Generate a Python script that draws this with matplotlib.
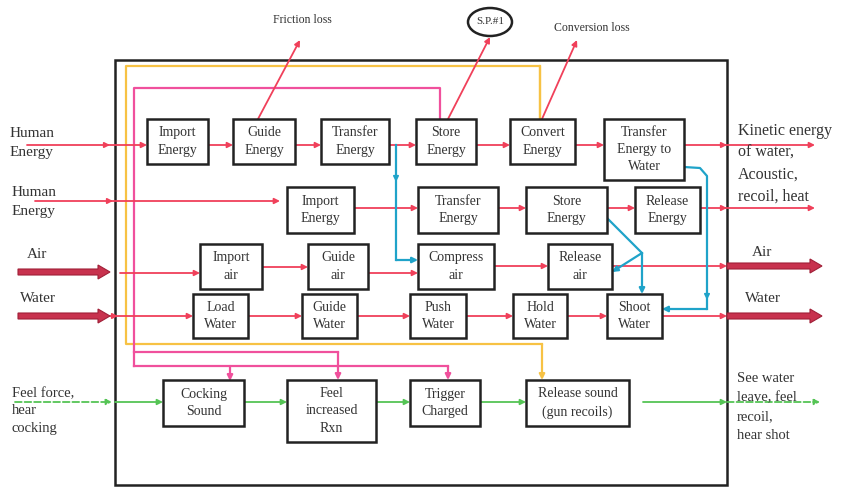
import matplotlib.pyplot as plt
from matplotlib.patches import Rectangle, Ellipse, FancyArrow

plt.rcParams['font.family'] = ['Liberation Serif', 'DejaVu Serif']

# Textos de las cajas por fila
fila1 = ["Import\nEnergy", "Guide\nEnergy", "Transfer\nEnergy", "Store\nEnergy",
         "Convert\nEnergy", "Transfer\nEnergy to\nWater"]
fila2 = ["Import\nEnergy", "Transfer\nEnergy", "Store\nEnergy", "Release\nEnergy"]
fila3 = ["Import\nair", "Guide\nair", "Compress\nair", "Release\nair"]
fila4 = ["Load\nWater", "Guide\nWater", "Push\nWater", "Hold\nWater", "Shoot\nWater"]
fila5 = ["Cocking\nSound", "Feel\nincreased\nRxn", "Trigger\nCharged",
         "Release sound\n(gun recoils)"]

entradas = ["Human\nEnergy", "Human\nEnergy", "Air", "Water", "Feel force,\nhear\ncocking"]
salidas = ["Kinetic energy\nof water,\nAcoustic,\nrecoil, heat", "Air", "Water",
           "See water\nleave, feel\nrecoil,\nhear shot"]
perdidas = ["Friction loss", "S.P.#1", "Conversion loss"]

# Posiciones (x0, x1) de cajas y (y0, y1) de cada fila, en pixeles
pos1 = [(147, 208), (233, 295), (321, 389), (416, 476), (510, 575), (604, 684)]
pos2 = [(287, 354), (418, 498), (526, 607), (635, 700)]
pos3 = [(200, 262), (308, 368), (418, 494), (548, 612)]
pos4 = [(193, 248), (302, 357), (410, 466), (513, 567), (607, 662)]
pos5 = [(163, 244), (287, 376), (410, 480), (526, 629)]
alto1, alto2, alto3, alto4, alto5 = (119, 164), (187, 233), (244, 289), (294, 338), (380, 426)

ROJO = '#f0405a'
ROSA = '#f0509c'
AMAR = '#f7c244'
CIAN = '#1fa3c9'
VERDE = '#55c455'
GRUESO = '#c8324e'
TEXTO = '#333333'

fig = plt.figure(figsize=(8.44, 4.87), dpi=100)
ax = fig.add_axes([0, 0, 1, 1])
ax.set_xlim(0, 844)
ax.set_ylim(487, 0)
ax.axis('off')


def caja(texto, x0, x1, y0, y1, fs=10):
    ax.add_patch(Rectangle((x0, y0), x1 - x0, y1 - y0, fill=True, fc='white',
                           ec='#222222', lw=1.8, zorder=3))
    ax.text((x0 + x1) / 2, (y0 + y1) / 2, texto, ha='center', va='center',
            fontsize=fs, color=TEXTO, linespacing=1.45, zorder=4)


def linea(pts, color, lw=1.3, ls='-', cabeza=True):
    xs = [p[0] for p in pts]
    ys = [p[1] for p in pts]
    if cabeza:
        ax.plot(xs[:-1], ys[:-1], color=color, lw=lw, ls=ls, zorder=2)
        ax.annotate('', xy=pts[-1], xytext=pts[-2],
                    arrowprops=dict(arrowstyle='-|>', color=color, lw=lw, ls=ls,
                                    shrinkA=0, shrinkB=0, mutation_scale=8),
                    zorder=2)
    else:
        ax.plot(xs, ys, color=color, lw=lw, ls=ls, zorder=2)


def punta(x, y, dx, dy, color):
    ax.annotate('', xy=(x, y), xytext=(x - dx, y - dy),
                arrowprops=dict(arrowstyle='-|>', color=color, lw=1.2,
                                shrinkA=0, shrinkB=0, mutation_scale=8), zorder=2)


# Limite del sistema
ax.add_patch(Rectangle((115, 60), 612, 425, fill=False, ec='#222222', lw=1.8, zorder=1))

# Lineas de control (amarilla y rosa)
linea([(540, 119), (540, 66), (126, 66), (126, 344), (542, 344), (542, 380)], AMAR, lw=1.6)
ax.plot([540, 540], [66, 119], color=AMAR, lw=1.6, zorder=2)
linea([(134, 366), (134, 88), (440, 88), (440, 119)], ROSA, lw=1.6, cabeza=False)
linea([(134, 352), (338, 352), (338, 380)], ROSA, lw=1.6)
linea([(134, 366), (448, 366), (448, 380)], ROSA, lw=1.6)
linea([(230, 366), (230, 381)], ROSA, lw=1.6)

# Cajas
for filas, pos, alto in [(fila1, pos1, alto1), (fila2, pos2, alto2), (fila3, pos3, alto3),
                         (fila4, pos4, alto4), (fila5, pos5, alto5)]:
    for t, (x0, x1) in zip(filas, pos):
        y0, y1 = alto
        if t == "Transfer\nEnergy to\nWater":
            y1 = 180
        if t == "Feel\nincreased\nRxn":
            y1 = 442
        caja(t, x0, x1, y0, y1)

# Fila 1 (energia humana)
linea([(27, 145), (147, 145)], ROJO)
punta(110, 145, 5, 0, ROJO)
for (a, b), (c, d) in zip(pos1[:-1], pos1[1:]):
    linea([(b, 145), (c, 145)], ROJO)
linea([(684, 145), (815, 145)], ROJO)
punta(727, 145, 5, 0, ROJO)

# Fila 2
linea([(35, 201), (280, 201)], ROJO)
punta(113, 201, 5, 0, ROJO)
for (a, b), (c, d) in zip(pos2[:-1], pos2[1:]):
    linea([(b, 208), (c, 208)], ROJO)
linea([(700, 208), (815, 208)], ROJO)
punta(727, 208, 5, 0, ROJO)

# Fila 3 (aire)
linea([(120, 273), (200, 273)], ROJO)
linea([(262, 267), (308, 267)], ROJO)
linea([(368, 273), (418, 273)], ROJO)
linea([(494, 266), (548, 266)], ROJO)
linea([(612, 266), (727, 266)], ROJO)

# Fila 4 (agua)
linea([(110, 316), (193, 316)], ROJO)
punta(118, 316, 5, 0, ROJO)
for (a, b), (c, d) in zip(pos4[:-1], pos4[1:]):
    linea([(b, 316), (c, 316)], ROJO)
linea([(662, 316), (727, 316)], ROJO)

# Flechas gruesas de materia
for x0, x1, y in [(18, 110, 272), (18, 110, 316), (727, 822, 266), (727, 822, 316)]:
    ax.add_patch(FancyArrow(x0, y, x1 - x0 - 12, 0, width=6, head_width=14,
                            head_length=12, length_includes_head=False,
                            fc=GRUESO, ec='#a02038', lw=0.8, zorder=3))

# Fila 5 (senales)
linea([(15, 402), (112, 402)], VERDE, ls='--')
linea([(115, 402), (163, 402)], VERDE)
for (a, b), (c, d) in zip(pos5[:-1], pos5[1:]):
    linea([(b, 402), (c, 402)], VERDE)
linea([(643, 402), (727, 402)], VERDE)
linea([(727, 402), (820, 402)], VERDE, ls='--')

# Lineas cian
linea([(396, 145), (396, 260), (418, 260)], CIAN, lw=1.6)
punta(396, 182, 0, 5, CIAN)
linea([(607, 218), (642, 253), (642, 294)], CIAN, lw=1.6)
linea([(642, 253), (612, 272)], CIAN, lw=1.6)
linea([(684, 167), (700, 168), (707, 176), (707, 309), (662, 309)], CIAN, lw=1.6)
punta(707, 300, 0, 5, CIAN)

# Perdidas
linea([(258, 119), (300, 40)], ROJO)
linea([(448, 119), (490, 37)], ROJO)
linea([(542, 119), (577, 40)], ROJO)
ax.text(302, 20, perdidas[0], ha='center', va='center', fontsize=8.5, color=TEXTO)
ax.add_patch(Ellipse((490, 22), 44, 28, fill=False, ec='#222222', lw=1.8))
ax.text(490, 22, perdidas[1], ha='center', va='center', fontsize=8, color=TEXTO)
ax.text(592, 28, perdidas[2], ha='center', va='center', fontsize=8.5, color=TEXTO)

# Entradas y salidas
ax.text(10, 143, entradas[0], ha='left', va='center', fontsize=11, color=TEXTO, linespacing=1.55)
ax.text(12, 202, entradas[1], ha='left', va='center', fontsize=11, color=TEXTO, linespacing=1.55)
ax.text(27, 254, entradas[2], ha='left', va='center', fontsize=11, color=TEXTO)
ax.text(20, 299, entradas[3], ha='left', va='center', fontsize=11, color=TEXTO)
ax.text(12, 411, entradas[4], ha='left', va='center', fontsize=10.5, color=TEXTO, linespacing=1.45)

ax.text(738, 164, salidas[0], ha='left', va='center', fontsize=11.5, color=TEXTO, linespacing=1.5)
ax.text(752, 252, salidas[1], ha='left', va='center', fontsize=11, color=TEXTO)
ax.text(745, 298, salidas[2], ha='left', va='center', fontsize=11, color=TEXTO)
ax.text(737, 407, salidas[3], ha='left', va='center', fontsize=10.5, color=TEXTO, linespacing=1.6)

fig.savefig('out.png', dpi=100)
